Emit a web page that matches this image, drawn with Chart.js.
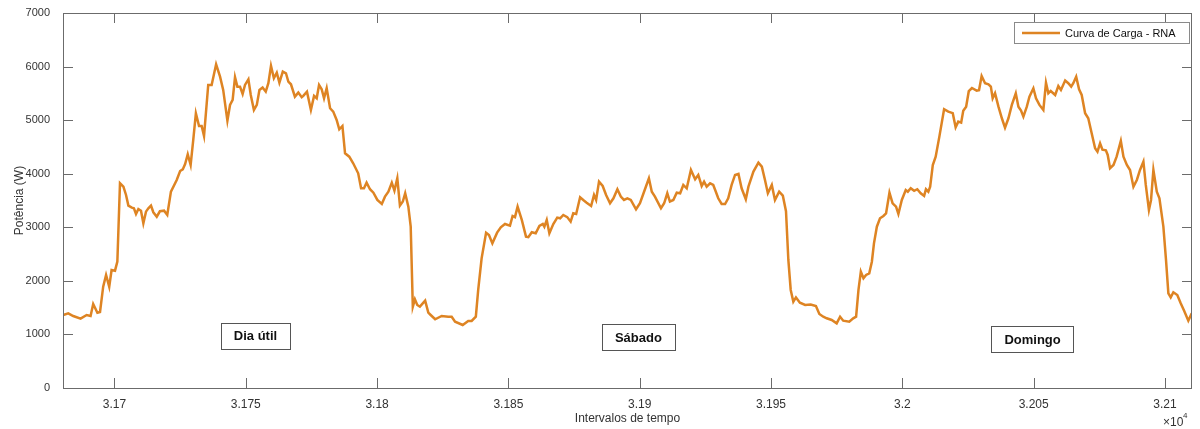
<!DOCTYPE html>
<html>
<head>
<meta charset="utf-8">
<script src="https://cdn.jsdelivr.net/npm/chart.js@4.4.0/dist/chart.umd.min.js"></script>
<style>
html, body { margin: 0; padding: 0; background: #fff; }
#wrap { width: 1200px; height: 429px; }
</style>
</head>
<body>
<div id="wrap"><canvas id="chart-curva-carga"></canvas></div>
<script>
// intervalos de tempo (eixo x) e potencia em W
var intervalos = [
    31680.5, 31682.4, 31684.3, 31687.1, 31689.4, 31690.9, 31691.9, 31693.5, 31694.5, 31695.7,
    31696.8, 31698.0, 31698.9, 31700.2, 31701.1, 31702.1, 31703.4, 31704.4, 31705.3, 31706.6,
    31707.4, 31708.2, 31709.1, 31710.1, 31711.0, 31712.0, 31712.9, 31713.9, 31714.8, 31716.1,
    31717.3, 31718.9, 31720.1, 31721.5, 31723.7, 31725.0, 31726.0, 31726.9, 31727.9, 31729.0,
    31730.0, 31731.0, 31732.2, 31733.2, 31734.1, 31735.7, 31737.0, 31738.7, 31740.2, 31741.4,
    31743.0, 31744.0, 31745.0, 31745.9, 31746.8, 31747.8, 31748.8, 31749.7, 31751.0, 31751.9,
    31753.1, 31754.2, 31755.2, 31756.4, 31757.6, 31758.6, 31759.6, 31760.7, 31761.8, 31762.8,
    31764.1, 31765.3, 31766.2, 31767.2, 31768.7, 31770.0, 31771.3, 31771.9, 31773.3, 31774.8,
    31776.0, 31777.0, 31777.9, 31778.9, 31779.8, 31780.8, 31782.1, 31783.3, 31784.6, 31785.6,
    31786.8, 31787.8, 31789.4, 31790.9, 31792.8, 31793.9, 31795.0, 31796.0, 31797.3, 31798.6,
    31800.1, 31801.8, 31803.0, 31804.3, 31805.6, 31806.6, 31807.7, 31808.7, 31809.8, 31810.7,
    31811.9, 31812.8, 31813.6, 31814.4, 31815.3, 31816.3, 31818.3, 31819.5, 31820.4, 31822.1,
    31824.6, 31827.1, 31828.4, 31829.7, 31832.6, 31834.7, 31836.0, 31837.6, 31838.5, 31839.8,
    31841.5, 31842.6, 31843.9, 31845.7, 31847.1, 31848.7, 31850.6, 31851.6, 31852.5, 31853.5,
    31855.1, 31856.7, 31857.6, 31858.9, 31860.4, 31861.8, 31863.1, 31863.7, 31864.6, 31865.6,
    31867.1, 31868.6, 31869.7, 31870.9, 31872.4, 31873.7, 31874.7, 31875.8, 31877.3, 31878.5,
    31879.8, 31881.5, 31882.6, 31883.4, 31884.5, 31885.9, 31887.2, 31888.7, 31890.0, 31891.5,
    31892.8, 31894.0, 31895.3, 31896.6, 31898.6, 31900.1, 31902.0, 31903.5, 31904.6, 31905.8,
    31908.1, 31909.3, 31910.5, 31911.5, 31912.8, 31914.1, 31915.4, 31916.6, 31917.9, 31919.5,
    31921.1, 31922.3, 31923.6, 31924.5, 31925.5, 31926.8, 31928.0, 31928.7, 31929.9, 31931.2,
    31932.5, 31933.7, 31935.0, 31936.3, 31937.6, 31938.8, 31940.4, 31941.4, 31943.3, 31945.2,
    31946.5, 31947.7, 31948.8, 31950.3, 31951.5, 31953.1, 31954.5, 31955.7, 31956.6, 31957.5,
    31958.5, 31959.5, 31961.0, 31963.0, 31965.1, 31967.1, 31968.4, 31969.9, 31971.2, 31973.1,
    31975.0, 31976.3, 31977.5, 31979.8, 31981.3, 31982.4, 31983.3, 31984.2, 31985.2, 31986.2,
    31987.4, 31988.4, 31989.2, 31990.3, 31991.5, 31992.8, 31993.8, 31995.1, 31996.3, 31997.6,
    31998.5, 31999.8, 32001.3, 32002.1, 32003.2, 32004.5, 32005.7, 32007.0, 32008.3, 32009.0,
    32009.9, 32010.6, 32011.6, 32012.7, 32014.1, 32015.9, 32017.5, 32019.2, 32020.3, 32021.3,
    32022.4, 32023.2, 32024.3, 32025.3, 32026.5, 32028.3, 32029.2, 32030.2, 32031.5, 32032.8,
    32033.7, 32034.4, 32035.3, 32036.6, 32037.9, 32039.1, 32040.4, 32041.7, 32043.2, 32044.2,
    32045.2, 32046.1, 32047.4, 32048.4, 32049.9, 32050.9, 32052.2, 32053.7, 32054.7, 32055.6,
    32056.5, 32058.2, 32059.4, 32060.4, 32062.0, 32063.2, 32064.3, 32065.1, 32066.2, 32067.3,
    32068.3, 32069.6, 32070.8, 32072.1, 32073.4, 32074.3, 32075.3, 32076.2, 32077.5, 32078.2,
    32079.1, 32080.4, 32081.6, 32083.2, 32084.2, 32085.5, 32086.7, 32088.0, 32089.3, 32090.5,
    32091.8, 32092.7, 32093.9, 32094.7, 32095.6, 32096.9, 32097.9, 32099.4, 32100.4, 32101.3,
    32102.2, 32103.2, 32104.7, 32106.0, 32107.3, 32108.9, 32110.2
];
var potencia = [
    1363, 1394, 1344, 1294, 1363, 1344, 1568, 1406, 1420, 1891,
    2110, 1891, 2203, 2190, 2358, 3822, 3758, 3603, 3404, 3366,
    3355, 3249, 3342, 3310, 3075, 3292, 3355, 3404, 3280, 3198,
    3299, 3310, 3230, 3665, 3883, 4051, 4080, 4182, 4363, 4163,
    4630, 5128, 4891, 4891, 4705, 5657, 5657, 6043, 5812, 5564,
    4990, 5284, 5377, 5801, 5625, 5625, 5489, 5657, 5763, 5470,
    5190, 5284, 5564, 5608, 5532, 5689, 6012, 5782, 5886, 5700,
    5905, 5875, 5719, 5670, 5439, 5514, 5427, 5452, 5532, 5190,
    5452, 5409, 5657, 5576, 5409, 5595, 5222, 5159, 5003, 4830,
    4891, 4382, 4318, 4195, 4008, 3728, 3728, 3833, 3710, 3646,
    3510, 3435, 3572, 3665, 3833, 3684, 3915, 3404, 3480, 3635,
    3385, 3011, 1518, 1656, 1550, 1518, 1630, 1406, 1363, 1283,
    1344, 1331, 1331, 1238, 1176, 1251, 1251, 1331, 1830, 2421,
    2899, 2856, 2700, 2900, 3000, 3061, 3030, 3211, 3190, 3385,
    3137, 2825, 2815, 2907, 2888, 3024, 3061, 3010, 3137, 2888,
    3061, 3180, 3168, 3230, 3190, 3105, 3261, 3249, 3560, 3510,
    3460, 3398, 3603, 3510, 3852, 3771, 3603, 3448, 3541, 3710,
    3572, 3510, 3541, 3510, 3336, 3448, 3710, 3915, 3665, 3572,
    3355, 3448, 3635, 3480, 3510, 3646, 3635, 3790, 3728, 4070,
    3896, 3977, 3771, 3852, 3758, 3820, 3790, 3700, 3541, 3435,
    3435, 3541, 3790, 3977, 3996, 3728, 3523, 3758, 4039, 4207,
    4132, 3883, 3635, 3790, 3510, 3665, 3590, 3300, 2390, 1830,
    1611, 1690, 1593, 1550, 1560, 1531, 1381, 1331, 1301, 1270,
    1207, 1331, 1257, 1238, 1301, 1331, 1830, 2171, 2048, 2110,
    2140, 2358, 2701, 3011, 3168, 3211, 3260, 3646, 3448, 3385,
    3249, 3510, 3697, 3665, 3728, 3680, 3710, 3635, 3585, 3710,
    3665, 3758, 4163, 4318, 4692, 5203, 5159, 5130, 4867, 4972,
    4953, 5175, 5250, 5540, 5600, 5551, 5560, 5825, 5689, 5670,
    5625, 5409, 5502, 5252, 5035, 4860, 5035, 5284, 5502, 5252,
    5180, 5065, 5252, 5439, 5595, 5409, 5284, 5190, 5700, 5502,
    5545, 5470, 5638, 5564, 5738, 5689, 5625, 5689, 5812, 5577,
    5470, 5128, 5035, 4755, 4475, 4412, 4568, 4450, 4437, 4350,
    4102, 4163, 4318, 4611, 4318, 4163, 4070, 3758, 3883, 4070,
    4225, 3790, 3323, 3510, 4070, 3665, 3541, 3011, 2390, 1768,
    1693, 1787, 1736, 1581, 1443, 1257, 1394
];
var xTicks = [31700, 31750, 31800, 31850, 31900, 31950, 32000, 32050, 32100];
var yTicks = [0, 1000, 2000, 3000, 4000, 5000, 6000, 7000];
var rotulos = ['Dia útil', 'Sábado', 'Domingo'];
var rotuloX = [31753.7, 31899.5, 32049.6];
var rotuloY = [980, 952, 915];

var corLinha = '#DE8423';
var corEixo = '#6b6b6b';
var corTexto = '#333333';

var pontos = intervalos.map(function(x, i) { return { x: x, y: potencia[i] }; });

// caixa dos eixos com marcas para dentro (estilo matlab), legenda e rotulos
var estiloMatlab = {
    id: 'estiloMatlab',
    afterDatasetsDraw: function(chart) {
        var ctx = chart.ctx;
        var a = chart.chartArea;
        var sx = chart.scales.x, sy = chart.scales.y;
        var tl = 10;
        ctx.save();
        ctx.strokeStyle = corEixo;
        ctx.lineWidth = 1;
        ctx.strokeRect(Math.round(a.left) + 0.5, Math.round(a.top) + 0.5,
            Math.round(a.right - a.left) - 1, Math.round(a.bottom - a.top));
        ctx.beginPath();
        xTicks.forEach(function(v) {
            var px = Math.round(sx.getPixelForValue(v)) + 0.5;
            ctx.moveTo(px, a.bottom); ctx.lineTo(px, a.bottom - tl);
            ctx.moveTo(px, a.top); ctx.lineTo(px, a.top + tl);
        });
        yTicks.forEach(function(v) {
            var py = Math.round(sy.getPixelForValue(v)) + 0.5;
            ctx.moveTo(a.left, py); ctx.lineTo(a.left + tl, py);
            ctx.moveTo(a.right, py); ctx.lineTo(a.right - tl, py);
        });
        ctx.stroke();

        // rotulos dos dias
        ctx.font = 'bold 13px "Liberation Sans", Arial, sans-serif';
        ctx.textAlign = 'center';
        ctx.textBaseline = 'middle';
        rotulos.forEach(function(t, i) {
            var cx = sx.getPixelForValue(rotuloX[i]);
            var cy = sy.getPixelForValue(rotuloY[i]);
            var w = ctx.measureText(t).width + 26;
            var h = 26;
            ctx.fillStyle = '#fff';
            ctx.fillRect(cx - w / 2, cy - h / 2, w, h);
            ctx.strokeStyle = '#555';
            ctx.strokeRect(Math.round(cx - w / 2) + 0.5, Math.round(cy - h / 2) + 0.5, Math.round(w), h);
            ctx.fillStyle = '#111';
            ctx.fillText(t, cx, cy + 1);
        });

        // legenda
        var ds = chart.data.datasets[0];
        var lx = 1014, ly = 22, lw = 175, lh = 21;
        ctx.fillStyle = '#fff';
        ctx.fillRect(lx, ly, lw, lh);
        ctx.strokeStyle = '#8a8a8a';
        ctx.lineWidth = 1;
        ctx.strokeRect(lx + 0.5, ly + 0.5, lw, lh);
        ctx.strokeStyle = ds.borderColor;
        ctx.lineWidth = 2.5;
        ctx.beginPath();
        ctx.moveTo(lx + 8, ly + lh / 2 + 0.5);
        ctx.lineTo(lx + 46, ly + lh / 2 + 0.5);
        ctx.stroke();
        ctx.fillStyle = '#111';
        ctx.font = '11px "Liberation Sans", Arial, sans-serif';
        ctx.textAlign = 'left';
        ctx.fillText(ds.label, lx + 51, ly + lh / 2 + 1);

        // fator de escala do eixo x
        ctx.fillStyle = corTexto;
        ctx.font = '12px "Liberation Sans", Arial, sans-serif';
        ctx.textAlign = 'left';
        ctx.fillText('\u00d710', 1163, 423);
        ctx.font = '8px "Liberation Sans", Arial, sans-serif';
        ctx.fillText('4', 1183, 416);
        ctx.restore();
    }
};

var ctx = document.getElementById('chart-curva-carga');
var chart = new Chart(ctx, {
    type: 'line',
    data: {
        datasets: [{
            label: 'Curva de Carga - RNA',
            data: pontos,
            borderColor: corLinha,
            borderWidth: 2.5,
            pointRadius: 0,
            tension: 0,
            fill: false
        }]
    },
    options: {
        responsive: true,
        maintainAspectRatio: false,
        animation: false,
        parsing: false,
        layout: { padding: { top: 13, right: 8, left: 0, bottom: 0 } },
        plugins: {
            legend: { display: false },
            tooltip: { enabled: false }
        },
        scales: {
            x: {
                type: 'linear',
                min: 31680.4,
                max: 32110.3,
                afterFit: function(scale) { scale.height = 41; },
                afterBuildTicks: function(scale) {
                    scale.ticks = xTicks.map(function(v) { return { value: v }; });
                },
                grid: { display: false },
                border: { display: false },
                ticks: {
                    padding: 1,
                    maxRotation: 0,
                    autoSkip: false,
                    color: corTexto,
                    font: { family: '"Liberation Sans", Arial, sans-serif', size: 12 },
                    callback: function(v) { return String(parseFloat((v / 10000).toFixed(4))); }
                },
                title: {
                    display: true,
                    text: 'Intervalos de tempo',
                    color: corTexto,
                    padding: { top: 0, bottom: 3 },
                    font: { family: '"Liberation Sans", Arial, sans-serif', size: 12 }
                }
            },
            y: {
                min: 0,
                max: 7000,
                afterFit: function(scale) { scale.width = 63; },
                afterBuildTicks: function(scale) {
                    scale.ticks = yTicks.map(function(v) { return { value: v }; });
                },
                grid: { display: false },
                border: { display: false },
                ticks: {
                    padding: 5,
                    color: corTexto,
                    font: { family: '"Liberation Sans", Arial, sans-serif', size: 11 },
                    callback: function(v) { return String(v); }
                },
                title: {
                    display: true,
                    text: 'Potência (W)',
                    color: corTexto,
                    padding: { top: 12, bottom: 0 },
                    font: { family: '"Liberation Sans", Arial, sans-serif', size: 12 }
                }
            }
        }
    },
    plugins: [estiloMatlab]
});
</script>
</body>
</html>
